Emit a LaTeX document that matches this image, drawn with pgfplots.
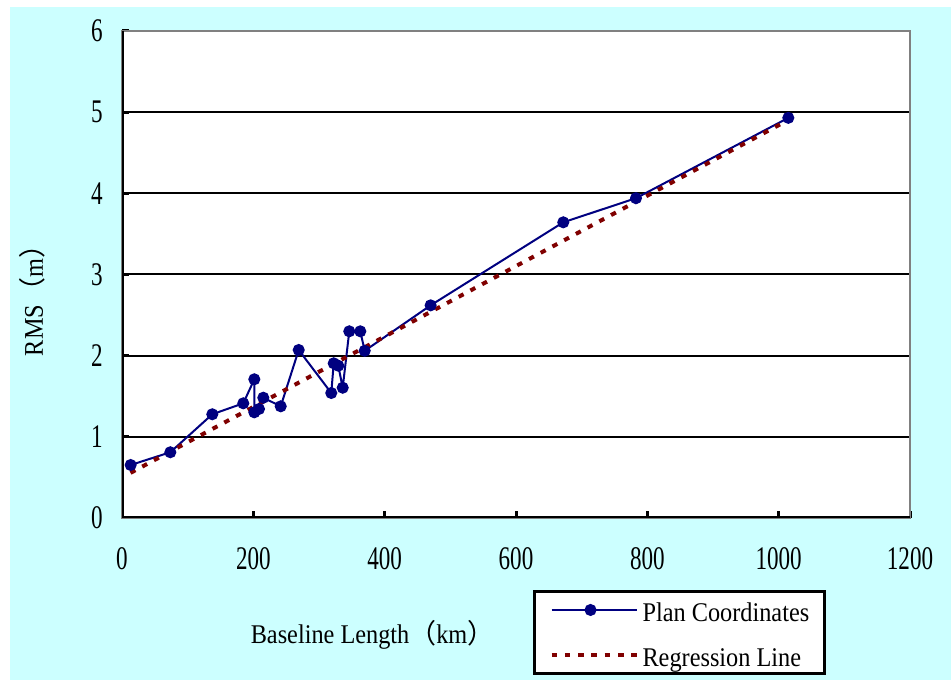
\documentclass[border=0pt]{standalone}
\usepackage{fontspec}
\setmainfont{Liberation Serif}[FakeStretch=0.9]
\newfontfamily\tickfont{Liberation Serif}[FakeStretch=0.7]
\newfontfamily\cjk{Noto Sans CJK SC}
\usepackage{pgfplots}
\pgfplotsset{compat=1.18}
\definecolor{bgcyan}{RGB}{204,255,255}
\definecolor{navyb}{RGB}{0,0,128}
\definecolor{maroonr}{RGB}{128,0,0}
\begin{document}
\begin{tikzpicture}[x=1pt,y=1pt]
\path[use as bounding box] (0,0) rectangle (951,680);
\fill[white] (0,0) rectangle (951,680);
\fill[bgcyan] (10,0) rectangle (951,673);
\begin{axis}[
  at={(122pt,162pt)}, anchor=south west,
  scale only axis, width=788pt, height=487pt,
  xmin=0, xmax=1200, ymin=0, ymax=6,
  xtick={0,200,...,1200}, ytick={0,1,...,6},
  axis background/.style={fill=white},
  axis line style={draw=gray, line width=2pt},
  ymajorgrids, major grid style={black, line width=2pt},
  tick pos=left, tick align=inside, major tick length=7pt,
  major tick style={black, line width=3pt},
  /pgf/number format/assume math mode=true,
  /pgf/number format/1000 sep={},
  ticklabel style={font=\tickfont\fontsize{33}{33}\selectfont},
  xticklabel style={inner sep=0pt, anchor=north, yshift=-29pt},
  yticklabel style={inner sep=0pt, anchor=east, xshift=-19pt},
  xlabel={Baseline Length{\cjk （}km{\cjk ）}},
  xlabel style={at={(rel axis cs:0.318,-0.2567)}, anchor=base, inner sep=0pt, font=\fontsize{27}{27}\selectfont},
  ylabel={RMS{\cjk （}m{\cjk ）}},
  ylabel style={at={(rel axis cs:-0.1003,0.46)}, anchor=base, inner sep=0pt, font=\fontsize{27}{27}\selectfont},
  legend style={at={(rel axis cs:0.5216,-0.1478)}, anchor=north west, draw=black, line width=3pt, fill=white,
    inner xsep=15pt, inner ysep=4pt, row sep=16pt, font=\fontsize{27}{27}\selectfont,
    nodes={inner sep=0pt, text height=26pt, text depth=3pt}},
  /tikz/every odd column/.append style={column sep=4pt},
  legend cell align=left,
  legend image code/.code={\draw[mark repeat=2, mark phase=2, #1] plot coordinates {(0pt,0pt) (39pt,0pt) (85pt,0pt)};},
]
\addplot[navyb, line width=2pt, mark=*, mark size=5pt, mark options={solid, fill=navyb}] coordinates {
(13.2,0.653) (73.6,0.81) (137.5,1.278) (184.7,1.413) (201.5,1.709) (201.5,1.302)
(208.6,1.343) (215.2,1.482) (241.7,1.376) (269.1,2.07) (318.7,1.54) (322.4,1.906)
(329.4,1.876) (336.1,1.605) (346.1,2.30) (362.9,2.30) (369.6,2.06) (470,2.62)
(672,3.643) (782.7,3.94) (1014.7,4.93)
};
\addlegendentry{Plan Coordinates}
\addplot[maroonr, line width=4pt, dash pattern=on 5.5pt off 7.8pt] coordinates {
(13,0.556) (1015,4.905)
};
\addlegendentry{Regression Line}
\draw[black, line width=3pt] (rel axis cs:0,1) -- (rel axis cs:0,0) -- (rel axis cs:1,0);
\end{axis}
\end{tikzpicture}
\end{document}
